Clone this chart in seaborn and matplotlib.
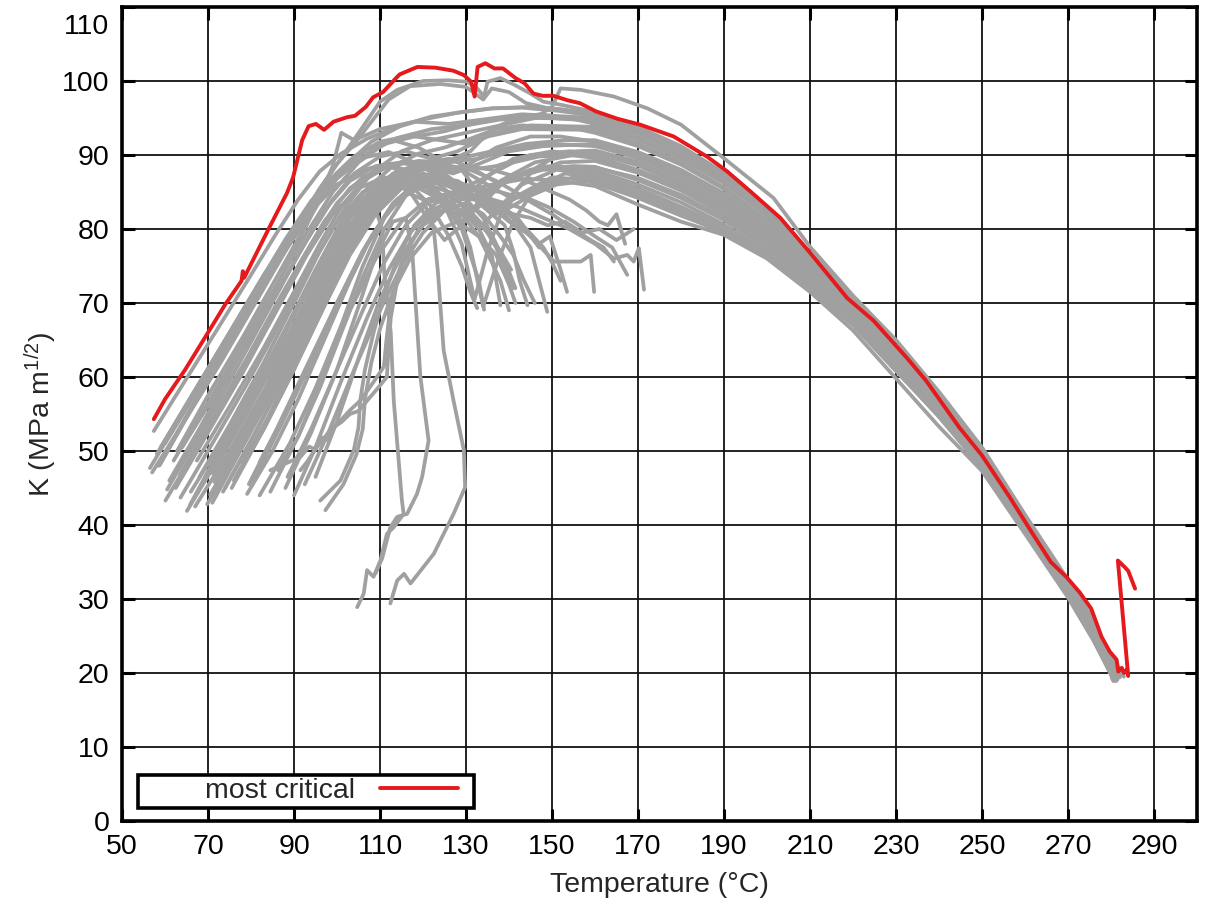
import matplotlib
matplotlib.use("Agg")
import matplotlib.pyplot as plt
import matplotlib.transforms as mtransforms
import numpy as np
import pandas as pd
import seaborn as sns
from matplotlib.patches import Rectangle

# ---------------- data ----------------
RED_T = [57.4, 60.0, 64.7, 70.0, 74.0, 77.8, 78.1, 78.4, 84.0, 88.4,
         89.8, 91.9, 93.4, 95.1, 97.0, 99.2, 102.3, 104.2, 106.7, 108.4,
         110.7, 113.9, 114.6, 118.7, 122.9, 127.0, 129.5, 131.2, 132.0, 132.7,
         134.5, 136.6, 138.6, 141.5, 143.6, 145.7, 147.8, 150.3, 153.6, 156.5,
         160.2, 165.2, 170.5, 178.3, 186.0, 190.7, 196.1, 203.1, 210.0, 218.6,
         224.8, 232.5, 237.0, 244.7, 250.0, 256.4, 261.8, 266.0, 269.6, 272.7,
         275.4, 277.8, 279.7, 281.3, 281.7, 282.5, 283.0, 283.6, 284.0, 281.6,
         283.2, 284.0, 285.6]
RED_K = [54.3, 57.0, 61.0, 66.0, 69.8, 73.0, 74.3, 73.4, 79.9, 84.9,
         87.0, 92.0, 93.9, 94.2, 93.4, 94.5, 95.1, 95.3, 96.5, 97.8,
         98.5, 100.5, 100.9, 101.9, 101.8, 101.4, 100.8, 99.9, 97.9, 101.9,
         102.4, 101.7, 101.7, 100.4, 99.7, 98.3, 98.0, 98.0, 97.4, 97.0,
         95.9, 94.9, 94.1, 92.5, 89.8, 87.8, 85.1, 81.5, 76.8, 70.7,
         67.6, 62.6, 59.5, 53.2, 49.4, 43.8, 38.8, 35.0, 33.0, 30.9,
         28.7, 24.9, 22.9, 21.8, 20.2, 20.7, 20.0, 20.4, 19.6, 35.2,
         34.3, 33.8, 31.4]

# sample temperatures used for the common descending branch of the long curves
TAIL_T = [160, 170, 180, 190, 200, 210, 220, 230, 240, 250, 260, 270, 276, 280]

A01_T = [57.4, 65, 72, 80, 86, 91, 96, 101, 107, 113, 120, 128, 136, 145, 152] + TAIL_T + [282.0]
A01_K = [52.7, 59.8, 66.3, 73.8, 79.5, 84.0, 87.8, 90.2, 92.2, 93.6, 94.8, 95.7, 96.3, 96.5, 96.2,
         95.5, 93.6, 91.0, 87.4, 82.6, 76.6, 70.4, 64.1, 57.3, 49.9, 40.9, 32.3, 26.6, 21.6, 19.6]
A02_T = [58.1, 66, 74, 82, 88, 94, 100, 106, 112, 118, 124, 130, 137, 145, 152] + TAIL_T + [281.5]
A02_K = [49.6, 57.3, 65.0, 72.8, 78.6, 83.8, 87.4, 89.6, 90.4, 89.0, 87.5, 88.5, 91.0, 92.5, 92.5,
         91.8, 90.2, 87.8, 84.6, 80.5, 75.3, 69.6, 63.3, 56.5, 49.2, 40.4, 31.8, 26.0, 21.0, 19.3]
A03_T = [57.0, 65, 73, 81, 88, 94, 100, 106, 112, 118, 123, 127, 132, 138, 146, 155] + TAIL_T + [281.0]
A03_K = [47.1, 54.5, 62.0, 70.0, 77.0, 82.5, 86.0, 88.0, 88.8, 87.5, 84.5, 82.0, 83.0, 86.5, 89.0, 90.0,
         90.2, 88.6, 86.0, 82.7, 78.8, 73.9, 68.4, 62.4, 55.7, 48.5, 39.9, 31.4, 25.4, 20.4, 19.2]
A04_T = [60.1, 68, 76, 84, 91, 97, 103, 109, 115, 121, 127, 133, 140, 148] + TAIL_T + [282.0]
A04_K = [43.3, 51.0, 59.0, 67.5, 75.0, 81.0, 85.5, 88.0, 89.0, 88.5, 87.5, 88.8, 90.5, 91.2,
         91.5, 90.0, 87.5, 84.2, 80.1, 75.0, 69.3, 63.0, 56.2, 49.0, 40.3, 31.7, 25.8, 20.8, 19.4]
A05_T = [62.0, 70, 78, 86, 93, 99, 105, 111, 118, 125, 133, 141, 150] + TAIL_T + [281.8]
A05_K = [48.7, 56.5, 64.5, 72.5, 79.5, 85.0, 89.0, 91.5, 92.5, 93.2, 94.5, 95.2, 95.0,
         94.6, 92.8, 90.3, 86.8, 82.2, 76.3, 70.2, 63.9, 57.1, 49.7, 40.8, 32.1, 26.4, 21.4, 19.8]
A06_T = [63.6, 71, 79, 87, 94, 100, 106, 112, 117, 121, 125, 129, 134, 140, 148] + TAIL_T + [280.8]
A06_K = [43.7, 51.0, 59.0, 67.5, 75.0, 81.0, 85.0, 86.5, 85.0, 81.5, 78.5, 80.5, 84.5, 87.0, 88.0,
         88.3, 86.9, 84.6, 81.5, 77.8, 73.1, 67.8, 61.8, 55.3, 48.2, 39.6, 31.0, 25.1, 20.2, 19.1]
A07_T = [65.1, 73, 81, 89, 96, 102, 108, 114, 120, 126, 131, 137, 145, 155] + TAIL_T + [281.2]
A07_K = [41.9, 49.5, 57.5, 66.0, 74.0, 80.0, 84.0, 86.0, 86.2, 85.0, 84.0, 86.0, 88.0, 88.5,
         88.4, 86.6, 84.2, 81.2, 77.5, 72.9, 67.6, 61.6, 55.1, 48.1, 39.5, 30.9, 25.0, 20.1, 18.9]
A08_T = [67.4, 75, 83, 90, 96, 101, 106, 112, 119, 126, 133, 141, 150] + TAIL_T + [281.7]
A08_K = [48.7, 56.0, 64.0, 71.5, 78.0, 83.0, 86.5, 88.5, 89.2, 89.0, 89.5, 91.0, 91.5,
         91.2, 89.6, 87.1, 83.9, 79.9, 74.8, 69.2, 62.9, 56.1, 48.9, 40.2, 31.6, 25.7, 20.7, 19.5]
A09_T = [69.8, 77, 85, 92, 98, 104, 110, 116, 122, 128, 133, 137, 143, 151] + TAIL_T + [280.5]
A09_K = [42.8, 50.0, 58.0, 66.0, 73.0, 79.0, 83.5, 86.0, 86.8, 84.0, 80.0, 82.5, 86.0, 88.0,
         87.5, 85.5, 83.0, 80.2, 76.8, 72.3, 67.3, 61.2, 54.9, 47.9, 39.4, 30.8, 24.8, 20.0, 19.0]
A10_T = [72.9, 80, 88, 95, 101, 107, 113, 120, 128, 136, 144, 153] + TAIL_T + [282.2]
A10_K = [47.8, 55.0, 63.5, 71.5, 78.5, 84.0, 87.5, 89.0, 89.5, 90.5, 91.5, 92.0,
         92.0, 90.4, 88.0, 84.8, 80.7, 75.5, 69.7, 63.4, 56.6, 49.3, 40.5, 31.9, 26.1, 21.1, 19.6]
A11_T = [79.1, 85, 91, 97, 103, 108, 114, 120, 126, 132, 137, 142, 150] + TAIL_T + [280.3]
A11_K = [44.2, 50.0, 57.0, 65.0, 73.0, 79.0, 84.0, 86.5, 87.0, 84.5, 82.0, 84.5, 87.0,
         86.5, 84.6, 82.0, 79.4, 76.2, 71.8, 67.0, 60.8, 54.7, 47.8, 39.3, 30.6, 24.6, 19.9, 19.2]
A12_T = [60.0, 68, 76, 83, 89, 95, 100, 107, 114, 122, 130, 138, 147] + TAIL_T + [282.0]
A12_K = [51.0, 58.6, 66.0, 72.5, 78.0, 83.0, 86.8, 90.2, 92.3, 93.5, 94.0, 94.8, 95.0,
         94.8, 93.0, 90.5, 87.0, 82.3, 76.4, 70.3, 64.0, 57.2, 49.8, 40.8, 32.2, 26.5, 21.5, 20.0]
A13_T = [64.0, 72, 80, 87, 93, 99, 104, 110, 116, 122, 128, 135, 143] + TAIL_T + [281.4]
A13_K = [50.5, 58.0, 65.5, 72.5, 78.5, 84.0, 87.5, 89.8, 90.5, 89.5, 90.5, 92.5, 93.5,
         93.4, 91.5, 89.0, 85.6, 81.2, 75.8, 69.9, 63.6, 56.8, 49.5, 40.6, 32.0, 26.2, 21.2, 19.7]
A14_T = [70.5, 78, 86, 93, 99, 105, 111, 117, 124, 131, 137, 145, 154] + TAIL_T + [281.0]
A14_K = [44.1, 51.5, 60.0, 68.0, 75.0, 81.0, 85.5, 88.0, 88.8, 88.0, 88.5, 90.0, 90.5,
         90.4, 88.8, 86.3, 83.1, 79.2, 74.2, 68.6, 62.6, 55.9, 48.7, 40.0, 31.5, 25.5, 20.5, 19.3]
A15_T = [74.2, 81, 88, 95, 101, 106, 112, 118, 124, 129, 134, 141, 150] + TAIL_T + [280.8]
A15_K = [48.0, 55.0, 62.5, 70.5, 77.5, 82.5, 86.5, 88.5, 88.0, 85.5, 86.8, 89.5, 90.5,
         89.8, 88.0, 85.6, 82.5, 78.6, 73.7, 68.3, 62.2, 55.6, 48.4, 39.8, 31.2, 25.3, 20.3, 19.0]
A16_T = [86.3, 91, 96, 101, 106, 111, 116, 122, 128, 134, 140, 148] + TAIL_T + [281.5]
A16_K = [47.4, 52.0, 58.5, 66.0, 73.5, 80.0, 84.5, 86.5, 86.0, 85.0, 86.5, 88.5,
         87.9, 86.0, 83.6, 80.6, 77.0, 72.5, 67.4, 61.4, 55.0, 48.0, 39.5, 30.9, 24.9, 20.0, 19.1]
A17_T = [56.5, 64, 72, 80, 87, 93, 98, 104, 110, 117, 124, 130, 137, 145] + TAIL_T + [281.6]
A17_K = [47.7, 55.0, 62.5, 70.0, 76.8, 82.3, 86.5, 89.8, 91.8, 92.6, 92.0, 91.5, 93.0, 94.0,
         93.8, 92.0, 89.5, 86.2, 81.8, 76.0, 70.0, 63.7, 56.9, 49.6, 40.7, 32.0, 26.3, 21.3, 19.6]
A19_T = [61.0, 68, 76, 84, 90, 95, 99, 101, 104, 110, 118, 126, 134, 143] + TAIL_T + [282.3]
A19_K = [46.0, 53.0, 61.5, 70.0, 77.0, 83.0, 88.5, 93.0, 92.0, 93.5, 94.5, 94.2, 94.8, 95.5,
         95.0, 93.2, 90.7, 87.2, 82.4, 76.4, 70.3, 64.0, 57.2, 49.8, 40.9, 32.2, 26.6, 21.6, 20.0]
A20_T = [71.5, 79, 87, 94, 100, 106, 112, 118, 124, 129, 132, 135, 139, 145, 152] + TAIL_T + [281.3]
A20_K = [45.8, 53.5, 62.0, 70.0, 77.0, 82.5, 86.0, 87.0, 84.5, 78.0, 70.5, 77.0, 83.5, 87.5, 89.0,
         89.2, 87.6, 85.2, 82.0, 78.1, 73.3, 68.0, 62.0, 55.4, 48.3, 39.7, 31.1, 25.2, 20.3, 19.2]
A21_T = [76.5, 84, 91, 98, 104, 110, 116, 122, 127, 131, 134, 137, 141, 146, 153] + TAIL_T + [280.9]
A21_K = [46.5, 54.5, 62.5, 71.0, 78.0, 83.5, 86.5, 87.5, 84.0, 77.5, 69.5, 75.0, 81.0, 85.5, 87.5,
         87.0, 85.2, 82.8, 80.0, 76.6, 72.1, 67.2, 61.1, 54.8, 47.9, 39.3, 30.7, 24.7, 19.9, 19.1]
E01_T = [58.8, 66, 74, 82, 89, 95, 101, 107, 113, 119, 125, 131, 136, 141, 147, 154] + TAIL_T + [281.9]
E01_K = [48.1, 55.5, 63.5, 71.5, 78.5, 84.0, 88.0, 90.8, 92.0, 91.0, 89.0, 90.5, 93.5, 94.8, 95.5, 95.0,
         94.2, 92.3, 89.8, 86.5, 82.0, 76.2, 70.1, 63.8, 57.0, 49.7, 40.7, 32.1, 26.3, 21.3, 19.5]
E02_T = [63.5, 71, 79, 87, 94, 100, 106, 112, 118, 124, 129, 134, 139, 145, 152, 158] + TAIL_T + [281.1]
E02_K = [46.8, 54.5, 62.5, 71.0, 78.0, 83.5, 87.0, 88.5, 87.0, 84.0, 81.0, 83.5, 86.5, 88.0, 88.5, 87.5,
         87.0, 85.0, 82.5, 79.8, 76.5, 72.0, 67.1, 61.0, 54.8, 47.8, 39.3, 30.7, 24.7, 19.9, 19.0]
E03_T = [65.8, 73, 81, 88, 95, 101, 107, 113, 119, 125, 131, 137, 143, 149, 156] + TAIL_T + [281.6]
E03_K = [42.7, 50.5, 58.5, 66.5, 74.5, 81.0, 85.5, 88.5, 90.2, 91.0, 92.2, 93.5, 94.0, 93.8, 93.5,
         93.0, 91.2, 88.7, 85.4, 81.0, 75.7, 69.8, 63.5, 56.7, 49.4, 40.6, 31.9, 26.1, 21.1, 19.4]
E04_T = [69.3, 77, 85, 92, 98, 104, 110, 116, 121, 126, 131, 136, 141, 147, 154] + TAIL_T + [280.7]
E04_K = [46.4, 54.0, 62.5, 70.5, 77.0, 82.5, 86.5, 88.0, 86.5, 83.5, 85.0, 87.5, 89.0, 89.8, 90.0,
         89.6, 87.8, 85.4, 82.3, 78.4, 73.5, 68.1, 62.1, 55.5, 48.4, 39.8, 31.2, 25.3, 20.2, 19.1]
E05_T = [74.0, 81, 89, 96, 102, 108, 114, 120, 126, 132, 138, 144, 150, 156] + TAIL_T + [281.4]
E05_K = [45.0, 52.5, 61.0, 69.5, 76.5, 82.5, 86.5, 88.8, 89.5, 88.0, 86.0, 87.5, 89.5, 90.5,
         90.6, 89.1, 86.6, 83.4, 79.4, 74.4, 68.8, 62.7, 56.0, 48.8, 40.1, 31.6, 25.6, 20.6, 19.3]
E06_T = [78.0, 85, 92, 99, 105, 111, 117, 123, 129, 134, 139, 145, 151, 158] + TAIL_T + [280.6]
E06_K = [48.5, 55.5, 63.5, 72.0, 79.0, 84.5, 87.5, 89.0, 88.0, 84.0, 82.5, 84.5, 86.0, 86.5,
         86.2, 84.2, 81.8, 79.6, 76.4, 72.0, 67.1, 60.9, 54.6, 47.7, 39.2, 30.5, 24.5, 19.8, 18.9]
E07_T = [62.8, 70, 78, 86, 92, 97, 102, 108, 115, 122, 129, 136, 143, 151] + TAIL_T + [282.4]
E07_K = [50.0, 57.5, 65.3, 73.5, 79.8, 84.8, 88.6, 91.8, 94.0, 95.2, 95.8, 96.3, 96.4, 96.0,
         95.3, 93.4, 90.8, 87.3, 82.5, 76.5, 70.3, 64.0, 57.2, 49.8, 40.9, 32.3, 26.6, 21.7, 19.9]
E08_T = [71.0, 78, 86, 93, 99, 105, 111, 117, 123, 129, 135, 141, 147, 155] + TAIL_T + [281.2]
E08_K = [43.0, 50.5, 59.0, 67.5, 74.5, 80.5, 85.0, 87.5, 88.5, 88.0, 86.0, 84.0, 85.5, 87.0,
         86.8, 85.0, 82.6, 80.0, 76.8, 72.4, 67.5, 61.4, 55.0, 48.0, 39.4, 30.8, 24.8, 20.1, 19.2]
B01_T = [59.0, 67, 75, 83, 90, 96, 101, 106, 110, 114, 120, 125.7, 130.3, 132.6, 134.2, 135.0,
         138.0, 141.2, 145.0, 148.0, 152.0] + TAIL_T + [282.5]
B01_K = [50.5, 58.2, 66.0, 73.8, 79.8, 85.5, 89.6, 93.8, 97.2, 98.8, 100.0, 100.1, 99.9, 99.0, 97.9, 99.9,
         100.4, 99.5, 98.3, 97.2, 96.8,
         95.8, 93.8, 91.2, 87.6, 82.8, 76.8, 70.5, 64.2, 57.4, 50.0, 41.0, 32.4, 26.8, 22.0, 20.2]
B02_T = [58.5, 66, 74, 82, 89, 95, 100, 104, 108, 112, 117, 124, 130, 134, 136, 140, 144, 150] + TAIL_T + [282.8]
B02_K = [48.0, 55.8, 63.5, 71.5, 78.5, 84.5, 88.8, 91.5, 94.5, 97.5, 99.3, 99.6, 99.2, 97.5, 99.0, 98.5, 97.0, 96.2,
         95.6, 93.6, 91.0, 87.5, 82.7, 76.7, 70.5, 64.1, 57.3, 49.9, 40.9, 32.3, 26.7, 21.8, 19.8]
C01_T = [68.0, 75, 83, 90, 96, 102, 108, 115, 122, 130, 138, 146, 150, 152, 156.7, 164.4, 172.2, 180,
         189.9, 201.5, 210, 220, 230, 240, 250, 260, 270, 276, 280, 283]
C01_K = [46.5, 53.5, 62.0, 70.0, 77.0, 83.0, 87.5, 90.5, 92.0, 93.0, 94.0, 95.0, 96.5, 99.0, 98.8, 97.9, 96.3, 94.1,
         89.6, 84.2, 77.6, 71.0, 65.0, 58.0, 50.5, 41.4, 32.6, 27.2, 21.2, 19.5]
F01_T = [96.1, 100.8, 103.9, 105.0, 105.4, 106.5, 108.5, 111, 114, 118, 123, 129, 136, 144, 152] + TAIL_T + [280.5]
F01_K = [43.3, 46.0, 50.1, 53.2, 56.8, 61.0, 66.0, 71.0, 76.0, 80.5, 83.5, 85.0, 86.0, 86.8, 86.5,
         85.8, 83.3, 81.0, 79.2, 76.0, 71.5, 66.3, 59.8, 53.3, 47.3, 38.8, 30.2, 24.3, 19.8, 19.3]
F02_T = [97.3, 101.5, 104.5, 106.0, 106.5, 108, 110, 113, 117, 122, 128, 133, 137, 140, 141.5]
F02_K = [42.0, 45.5, 49.5, 53.0, 57.0, 62.0, 66.5, 71.5, 76.0, 79.5, 81.0, 79.0, 76.5, 72.5, 70.0]
D01_T = [62.5, 70, 78, 86, 93, 99, 105, 111, 117, 122, 126, 129, 131, 132.6]
D01_K = [45.0, 52.5, 60.5, 69.0, 76.5, 82.0, 85.5, 87.0, 86.0, 83.0, 79.0, 75.0, 71.5, 69.3]
D02_T = [66.0, 74, 82, 90, 97, 103, 109, 115, 121, 126, 129, 131, 133, 134.2]
D02_K = [44.5, 52.0, 60.0, 68.5, 76.0, 81.5, 85.0, 86.5, 85.5, 82.5, 80.0, 76.5, 73.0, 69.1]
D03_T = [71.0, 79, 87, 94, 100, 106, 112, 118, 124, 129, 133, 136, 138]
D03_K = [47.0, 55.0, 63.5, 71.5, 78.0, 83.0, 85.5, 85.8, 84.0, 82.5, 80.0, 76.5, 69.7]
D04_T = [68.5, 76, 84, 91, 97, 103, 109, 115, 121, 127, 132, 136, 139, 141, 142.5, 144.3]
D04_K = [45.5, 53.0, 61.5, 69.5, 76.5, 82.0, 86.0, 88.0, 88.2, 86.5, 84.0, 82.0, 80.5, 77.0, 73.0, 69.7]
D05_T = [75.5, 83, 90, 97, 103, 109, 115, 121, 127, 133, 138, 142, 145, 147, 148.9]
D05_K = [45.0, 53.0, 61.0, 69.5, 76.5, 82.0, 85.5, 87.0, 86.0, 84.0, 82.5, 80.0, 77.5, 73.0, 68.8]
D06_T = [77.0, 84, 91, 98, 104, 110, 116, 122, 128, 134, 140, 145, 150.5, 156.7, 159.0, 159.8]
D06_K = [47.0, 54.5, 62.5, 71.0, 78.0, 83.0, 86.0, 87.0, 86.5, 84.5, 82.0, 79.0, 75.6, 75.6, 76.5, 71.5]
D07_T = [80.5, 87, 94, 100, 106, 112, 118, 124, 130, 136, 142, 148, 154, 160, 164.4, 167.5, 169.0, 170.2, 171.4]
D07_K = [46.0, 53.5, 62.0, 70.0, 77.0, 82.5, 85.5, 86.5, 86.0, 84.0, 83.0, 81.5, 80.0, 78.0, 76.0, 76.5, 75.6, 77.4, 71.8]
D08_T = [82.0, 88, 95, 101, 107, 113, 119, 125, 131, 137, 143, 149, 155, 160, 164, 167.5]
D08_K = [48.5, 55.0, 63.5, 71.0, 78.0, 83.5, 86.5, 88.0, 88.0, 86.5, 84.5, 83.0, 81.0, 79.0, 77.5, 73.8]
D09_T = [67.0, 75, 83, 90, 96, 102, 108, 114, 120, 126, 132, 138, 144, 150, 155, 159, 162, 164.4]
D09_K = [42.5, 50.0, 58.0, 66.5, 73.5, 79.5, 84.0, 86.5, 87.5, 86.5, 85.5, 85.0, 84.0, 82.0, 80.0, 78.5, 77.5, 75.6]
D10_T = [88.5, 94, 100, 106, 111, 116, 121, 126, 130, 134, 137, 139, 141]
D10_K = [46.5, 53.0, 61.0, 69.0, 75.5, 80.5, 83.5, 84.5, 83.0, 80.5, 77.5, 75.0, 72.0]
D11_T = [92.5, 98, 104, 110, 115, 120, 125, 130, 134, 138, 141, 143.5, 146]
D11_K = [45.5, 52.5, 61.0, 69.0, 75.0, 79.5, 82.5, 83.5, 82.0, 79.0, 76.5, 73.0, 70.0]
D12_T = [84.5, 91, 97, 103, 109, 115, 121, 127, 133, 139, 144, 148, 150, 152]
D12_K = [44.5, 52.0, 60.5, 69.0, 76.0, 81.0, 84.0, 85.0, 84.5, 82.5, 80.0, 77.5, 75.5, 73.0]
D13_T = [73.5, 81, 88, 95, 101, 107, 113, 119, 125, 131, 136, 140, 144, 147, 149.5, 152, 153.5]
D13_K = [44.5, 52.5, 60.5, 69.0, 76.0, 81.5, 85.0, 86.5, 86.0, 84.5, 83.0, 81.0, 79.5, 78.0, 79.0, 74.5, 71.5]
D14_T = [79.5, 86, 93, 100, 106, 112, 118, 124, 130, 136, 142, 148, 154, 158, 161, 163, 165, 167]
D14_K = [45.5, 53.0, 61.5, 70.0, 77.0, 82.5, 86.0, 88.0, 88.5, 88.0, 87.0, 85.5, 84.0, 82.5, 81.0, 80.5, 82.0, 78.0]
D15_T = [90.0, 95, 101, 107, 112, 117, 122, 127, 132, 137, 141, 145, 149, 153, 157, 161, 165, 169]
D15_K = [44.0, 50.5, 59.5, 68.0, 74.5, 79.5, 82.5, 84.0, 84.0, 83.0, 82.0, 81.5, 80.5, 81.0, 79.5, 80.0, 78.5, 80.0]
D16_T = [95.0, 100, 105, 110, 115, 120, 125, 129, 133, 136, 138, 140]
D16_K = [46.5, 54.0, 62.5, 70.5, 76.5, 80.5, 82.5, 82.0, 79.0, 75.5, 73.0, 69.0]
D17_T = [60.5, 68, 76, 84, 91, 97, 103, 109, 115, 121, 126, 130, 134, 137, 139.5, 141.5]
D17_K = [44.8, 52.3, 60.5, 69.0, 76.5, 82.5, 86.5, 88.5, 89.0, 88.0, 86.0, 84.0, 81.5, 78.0, 75.0, 72.0]
G01_T = [84.5, 88, 91.5, 93.5, 95, 96.5, 98, 99.2, 101, 103, 105, 107, 109.5, 111.6, 112, 112.5,
         114, 117, 121, 126, 131, 135, 138, 140.5]
G01_K = [47.4, 48.3, 49.2, 50.6, 50.2, 51.8, 51.4, 53.2, 53.9, 55.0, 55.4, 56.8, 58.5, 60.0, 64.0, 68.0,
         73.0, 78.0, 81.5, 83.0, 82.0, 79.5, 77.0, 74.5]
G02_T = [91.5, 93, 95.3, 98, 100.8, 103, 105.4, 107.5, 109.3, 110.9, 111.5, 112.5, 115, 119, 124, 130, 136, 142, 147]
G02_K = [47.4, 48.5, 50.5, 52.5, 54.1, 55.5, 56.8, 58.5, 60.0, 61.4, 65.0, 70.0, 75.5, 80.0, 83.0, 84.5, 84.0, 81.5, 77.5]
H01_T = [76, 83, 90, 96, 101, 105, 108.5, 110.5, 111, 112.5, 113.2, 115.1, 115.5, 113.2, 111.6, 110.1, 108.5, 107, 106.2, 104.7]
H01_K = [46, 53, 61, 69, 76, 81, 83.5, 80, 74, 66, 56.8, 43.3, 41.5, 39.7, 38.8, 35.2, 33, 33.9, 30.7, 28.9]
H02_T = [82, 89, 95, 101, 106, 111, 116, 120, 122.5, 123.5, 124.8, 127.1, 129.5, 129.8, 127.1, 122.5, 117.1, 115.6, 114, 112.4]
H02_K = [44, 51, 58.5, 67, 75, 81.5, 85, 84, 80, 74, 63.6, 56.8, 50.1, 45.1, 41.5, 36.1, 32.1, 33.4, 32.5, 29.4]
H03_T = [88, 94, 100, 105, 109, 113, 116, 117.5, 118.5, 119.4, 121.3, 119.8, 118.6, 116.3, 114, 112.4, 110.5, 109]
H03_K = [45, 52.5, 61, 69.5, 76.5, 81, 81.5, 77, 68, 60, 51.4, 46.5, 44.2, 41.5, 41.1, 39.7, 35.5, 33.5]

GRAY_CURVES = {
    "A01": (A01_T, A01_K), "A02": (A02_T, A02_K), "A03": (A03_T, A03_K), "A04": (A04_T, A04_K),
    "A05": (A05_T, A05_K), "A06": (A06_T, A06_K), "A07": (A07_T, A07_K), "A08": (A08_T, A08_K),
    "A09": (A09_T, A09_K), "A10": (A10_T, A10_K), "A11": (A11_T, A11_K), "A12": (A12_T, A12_K),
    "A13": (A13_T, A13_K), "A14": (A14_T, A14_K), "A15": (A15_T, A15_K), "A16": (A16_T, A16_K),
    "A17": (A17_T, A17_K), "A19": (A19_T, A19_K), "A20": (A20_T, A20_K), "A21": (A21_T, A21_K),
    "E01": (E01_T, E01_K), "E02": (E02_T, E02_K), "E03": (E03_T, E03_K), "E04": (E04_T, E04_K),
    "E05": (E05_T, E05_K), "E06": (E06_T, E06_K), "E07": (E07_T, E07_K), "E08": (E08_T, E08_K),
    "B01": (B01_T, B01_K), "B02": (B02_T, B02_K), "C01": (C01_T, C01_K),
    "F01": (F01_T, F01_K), "F02": (F02_T, F02_K),
    "D01": (D01_T, D01_K), "D02": (D02_T, D02_K), "D03": (D03_T, D03_K), "D04": (D04_T, D04_K),
    "D05": (D05_T, D05_K), "D06": (D06_T, D06_K), "D07": (D07_T, D07_K), "D08": (D08_T, D08_K),
    "D09": (D09_T, D09_K), "D10": (D10_T, D10_K), "D11": (D11_T, D11_K), "D12": (D12_T, D12_K),
    "D13": (D13_T, D13_K), "D14": (D14_T, D14_K), "D15": (D15_T, D15_K), "D16": (D16_T, D16_K),
    "D17": (D17_T, D17_K),
    "G01": (G01_T, G01_K), "G02": (G02_T, G02_K),
    "H01": (H01_T, H01_K), "H02": (H02_T, H02_K), "H03": (H03_T, H03_K),
}

X_TICKS = list(range(50, 291, 20))
Y_TICKS = list(range(0, 111, 10))
LEGEND_LABEL = "most critical"

# ---------------- build tables ----------------
rows = []
for name, (tt, kk) in GRAY_CURVES.items():
    assert len(tt) == len(kk), (name, len(tt), len(kk))
    for i, (t, k) in enumerate(zip(tt, kk)):
        rows.append({"curve": name, "order": i, "T": t, "K": k})
gray_df = pd.DataFrame(rows)
assert len(RED_T) == len(RED_K)
red_df = pd.DataFrame({"T": RED_T, "K": RED_K})

# ---------------- style ----------------
sns.set_style("ticks")
plt.rcParams["font.family"] = ["Liberation Sans", "DejaVu Sans"]
plt.rcParams["mathtext.default"] = "regular"

GRAY = "#a0a0a0"
RED = "#e41a1c"
FS = 20.5

fig = plt.figure(figsize=(12.08, 9.02), dpi=100)
ax = fig.add_axes([122 / 1208, 81 / 902, 1075 / 1208, 814 / 902])

sns.lineplot(data=gray_df, x="T", y="K", units="curve", estimator=None, sort=False,
             color=GRAY, lw=2.7, legend=False, ax=ax, zorder=2)
sns.lineplot(data=red_df, x="T", y="K", sort=False, estimator=None,
             color=RED, lw=2.8, label=LEGEND_LABEL, ax=ax, zorder=3)

ax.set_xlim(50, 300)
ax.set_ylim(0, 110)
ax.set_xticks(X_TICKS)
ax.set_yticks(Y_TICKS)
ax.grid(True, color="#111111", lw=1.3)
ax.set_axisbelow(True)
ax.tick_params(direction="in", length=9, width=2.2, top=True, right=True,
               labelsize=FS, pad=9, colors="black")
for s in ax.spines.values():
    s.set_linewidth(2.6)
    s.set_color("black")
    s.set_zorder(6)

# the top y label sits just below the frame edge, as in the original
top_lab = ax.yaxis.get_major_ticks()[-1].label1
top_lab.set_verticalalignment("top")
top_lab.set_transform(top_lab.get_transform() +
                      mtransforms.ScaledTranslation(0, -5 / 72, fig.dpi_scale_trans))

ax.set_xlabel("Temperature (°C)", fontsize=FS, labelpad=9)
ax.set_ylabel("K (MPa m$^{1/2}$)", fontsize=FS, labelpad=2)

# legend box (text first, then line sample), like the original
ax.add_patch(Rectangle((16 / 1075, 13 / 814), 336 / 1075, 33 / 814, transform=ax.transAxes,
                       facecolor="white", edgecolor="black", lw=2.6, zorder=4.5, clip_on=False))
handles, labels = ax.get_legend_handles_labels()
leg = ax.legend(handles, labels, loc="center left", bbox_to_anchor=(83 / 1075, 30 / 814),
                frameon=False, markerfirst=False, handlelength=2.74, handletextpad=0.88,
                fontsize=FS, borderpad=0, borderaxespad=0)
leg.set_zorder(5)

fig.savefig("out.png", dpi=100)
